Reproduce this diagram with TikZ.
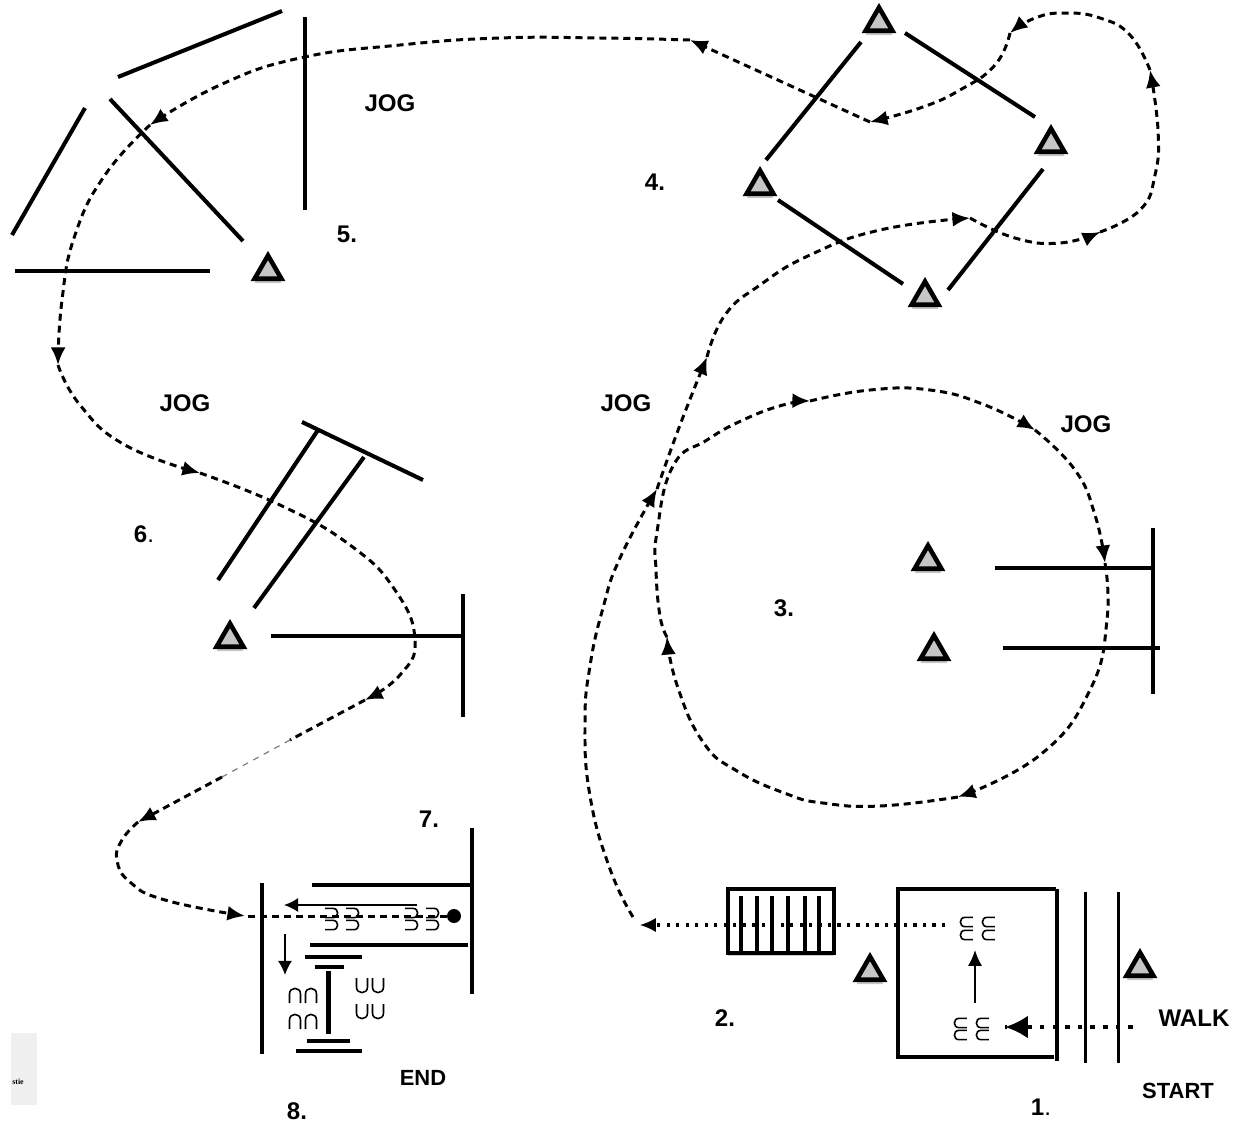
\documentclass[tikz,border=0pt]{standalone}
\usepackage{fontspec}
\setmainfont{Liberation Sans}
\newfontfamily\cornerfont{Liberation Serif}
\usetikzlibrary{arrows.meta,shapes.geometric,shadows,calc}
\tikzset{
	wall/.style={line width=2.3pt},
	thinwall/.style={line width=1.7pt},
	jogline/.style={line width=1.7pt,dash pattern=on 4pt off 2.8pt},
	jogpath/.style={jogline,-{Latex[length=10pt,width=8.5pt]}},
	fadeline/.style={line width=0.7pt,gray,dash pattern=on 3.4pt off 3.4pt},
	walkpath/.style={line width=1.8pt,dash pattern=on 1.8pt off 3.6pt},
	startpath/.style={line width=2.6pt,dash pattern=on 2.6pt off 4.6pt},
	hoofline/.style={line width=0.9pt},
	cone/.style={regular polygon,regular polygon sides=3,draw,line width=2.6pt,fill=gray!45,inner sep=0pt,minimum size=0.62cm,
		drop shadow={shadow xshift=0pt,shadow yshift=-2.5pt,opacity=.45}},
	lbl/.style={font=\bfseries\fontsize{13.7}{15}\selectfont,inner sep=0pt},
	smalllbl/.style={lbl,font=\bfseries\fontsize{12.5}{14}\selectfont},
}
\newcommand{\hoof}[4]{\draw[hoofline,shift={(#1,#2)},rotate=#3,scale=#4] (-5.5,8) -- (-5.5,-1) .. controls (-5.5,-8.5) and (5.5,-8.5) .. (5.5,-1) -- (5.5,8);}
\begin{document}
\begin{tikzpicture}[x=0.02cm,y=-0.02cm]
	\useasboundingbox (0,0) rectangle (1238,1127);
	% 5
	\draw[wall] (118,77) -- (282,11);
	\draw[wall] (305,17) -- (305,210);
	\draw[wall] (110,99) -- (243,241);
	\draw[wall] (85,108) -- (12,235);
	\draw[wall] (15,271) -- (210,271);
	% 4
	\draw[wall] (861,42) -- (766,160);
	\draw[wall] (905,33) -- (1035,117);
	\draw[wall] (1043,169) -- (948,290);
	\draw[wall] (778,200) -- (903,284);
	% 3
	\draw[wall] (995,568) -- (1153,568);
	\draw[wall] (1003,648) -- (1160,648);
	\draw[wall] (1153,528) -- (1153,694);
	% 6
	\draw[wall] (318,430) -- (218,580);
	\draw[wall] (364,457) -- (254,608);
	\draw[wall] (302,422) -- (423,480);
	\draw[wall] (271,636) -- (465,636);
	\draw[wall] (463,594) -- (463,717);
	% 7 and 8
	\draw[wall] (312,885) -- (472,885);
	\draw[wall] (472,828) -- (472,994);
	\draw[wall] (310,945) -- (468,945);
	\draw[wall] (262,883) -- (262,1054);
	\draw[wall] (305,957) -- (362,957);
	\draw[wall] (315,967) -- (344,967);
	\draw[wall] (328.5,971) -- (328.5,1034);
	\draw[wall] (307,1041) -- (350,1041);
	\draw[wall] (296,1051) -- (362,1051);
	% 1
	\draw[wall] (1056,889) -- (898,889) -- (898,1057) -- (1054,1057);
	\draw[wall] (1057,889) -- (1057,1061);
	\draw[thinwall] (1085,892) -- (1085,1063);
	\draw[thinwall] (1118,892) -- (1118,1063);
	% 2
	\draw[line width=2.7pt,drop shadow={shadow xshift=0pt,shadow yshift=-1.5pt,opacity=.4},fill=white] (728,889) rectangle (834,953);
	\foreach \x in {741,757,772,788,805,819} \draw[wall] (\x,896) -- (\x,952);
	% cones
	\foreach \n/\x/\y in {a/879/23,b/1051/144,c/760/186,d/925/297,e/268/271,f/928/561,g/934/651,h/230/639,i/870/972,j/1140/968}
		\node[cone] (cone\n) at (\x,\y) {};
	% hoof prints
	\foreach \x in {332,353,412,433} \foreach \y in {913,925} \hoof{\x}{\y}{-90}{0.85};
	\foreach \x in {295,311} \foreach \y in {995,1021} \hoof{\x}{\y}{0}{1};
	\foreach \x in {362,378} \foreach \y in {986,1012} \hoof{\x}{\y}{180}{1};
	\foreach \x in {966,988} \foreach \y in {922,935} \hoof{\x}{\y}{90}{0.85};
	\foreach \x in {960,982} \foreach \y in {1023,1035} \hoof{\x}{\y}{90}{0.85};
	% walk
	\coordinate (walkin) at (1133,1027);
	\coordinate (walkstop) at (1005,1027);
	\coordinate (turna) at (975,1003);
	\coordinate (turnb) at (975,950);
	\coordinate (walkout) at (945,925);
	\coordinate (walkend) at (640,925);
	\draw[startpath] (walkin) -- (walkstop);
	\draw[-{Latex[length=13pt,width=13pt]},line width=2pt] ($(walkstop)+(25,0)$) -- (walkstop);
	\draw[-{Latex[length=9pt,width=8pt]},line width=1pt] (turna) -- (turnb);
	\draw[walkpath] (walkout) -- ($(walkend)+(14,0)$);
	\draw[-{Latex[length=9pt,width=8pt]},line width=1pt] ($(walkend)+(16,0)$) -- (walkend);
	% jog
	\coordinate (ja) at (633,917);
	\coordinate (jb) at (657,489);
	\coordinate (jc) at (707,357);
	\coordinate (jd) at (970,218);
	\coordinate (je) at (1100,232);
	\coordinate (jf) at (1150,70);
	\coordinate (jg) at (1010,33);
	\coordinate (jh) at (870,122);
	\coordinate (ji) at (690,40);
	\coordinate (jj) at (150,125);
	\coordinate (jk) at (58,365);
	\coordinate (jl) at (200,473);
	\coordinate (jm) at (365,700);
	\coordinate (jn) at (138,822);
	\coordinate (jo) at (245,916);
	\coordinate (gapa) at (290,740);
	\coordinate (gapb) at (222,777);
	\draw[jogpath] plot[smooth,tension=.8] coordinates {(ja) (610,869) (590,796) (585,723) (590,666) (603,608) (620,558) (jb)};
	\draw[jogpath] plot[smooth,tension=.8] coordinates {(jb) (680,425) (jc)};
	\draw[jogpath] plot[smooth,tension=.8] coordinates {(jc) (725,315) (760,285) (810,255) (880,230) (jd)};
	\draw[jogpath] plot[smooth,tension=.8] coordinates {(jd) (1015,238) (1060,243) (je)};
	\draw[jogpath] plot[smooth,tension=.8] coordinates {(je) (1140,210) (1155,175) (1158,130) (jf)};
	\draw[jogpath] plot[smooth,tension=.8] coordinates {(jf) (1130,35) (1100,18) (1065,13) (1035,18) (jg)};
	\draw[jogpath] plot[smooth,tension=.8] coordinates {(jg) (995,65) (960,90) (920,108) (jh)};
	\draw[jogpath] (jh) -- (ji);
	\draw[jogpath] plot[smooth,tension=.8] coordinates {(ji) (600,38) (500,38) (400,45) (300,58) (220,85) (jj)};
	\draw[jogpath] plot[smooth,tension=.8] coordinates {(jj) (105,175) (75,235) (62,300) (jk)};
	\draw[jogpath] plot[smooth,tension=.8] coordinates {(jk) (80,405) (125,445) (jl)};
	\draw[jogpath] plot[smooth,tension=.8] coordinates {(jl) (280,505) (350,545) (395,590) (415,640) (400,675) (jm)};
	\draw[jogline] (jm) -- (gapa);
	\draw[fadeline] (gapa) -- (gapb);
	\draw[jogpath] (gapb) -- (jn);
	\draw[jogpath] plot[smooth,tension=.8] coordinates {(jn) (122,840) (117,860) (130,882) (165,900) (jo)};
	% circle
	\coordinate (ca) at (810,401);
	\coordinate (cb) at (1035,430);
	\coordinate (cc) at (1105,563);
	\coordinate (cd) at (958,797);
	\coordinate (ce) at (667,637);
	\draw[jogpath] plot[smooth,tension=.8] coordinates {(ce) (660,616) (656,570) (657,532) (673,466) (707,440) (743,420) (783,405) (ca)};
	\draw[jogpath] plot[smooth,tension=.8] coordinates {(ca) (870,390) (930,390) (985,405) (cb)};
	\draw[jogpath] plot[smooth,tension=.8] coordinates {(cb) (1075,470) (1095,515) (cc)};
	\draw[jogpath] plot[smooth,tension=.8] coordinates {(cc) (1107,620) (1090,690) (1040,755) (cd)};
	\draw[jogpath] plot[smooth,tension=.8] coordinates {(cd) (880,806) (823,803) (787,794) (737,771) (703,742) (677,685) (ce)};
	% 7 and 8 inside
	\node[circle,fill,inner sep=0pt,minimum size=0.28cm] (whistle) at (454,916) {};
	\draw[jogline] (whistle) -- (jo);
	\coordinate (turnc) at (417,905);
	\coordinate (turnd) at (284,905);
	\coordinate (turne) at (285,934);
	\coordinate (turnf) at (285,975);
	\draw[-{Latex[length=8pt,width=8pt]},line width=1pt] (turnc) -- (turnd);
	\draw[-{Latex[length=8pt,width=8pt]},line width=1pt] (turne) -- (turnf);
	% labels
	\node[lbl] (jogfive) at (390,103) {JOG};
	\node[lbl] (numfive) at (347,234) {5.};
	\node[lbl] (numfour) at (655,182) {4.};
	\node[lbl] (jogsix) at (185,403) {JOG};
	\node[lbl] (jogfour) at (626,403) {JOG};
	\node[lbl] (jogthree) at (1086,424) {JOG};
	\node[lbl] (numsix) at (144,534) {6\textmd{.}};
	\node[lbl] (numthree) at (784,608) {3.};
	\node[lbl] (numseven) at (429,819) {7.};
	\node[lbl] (numtwo) at (725,1018) {2.};
	\node[lbl] (walk) at (1194,1018) {WALK};
	\node[smalllbl] (start) at (1178,1091) {START};
	\node[smalllbl] (end) at (423,1078) {END};
	\node[lbl] (numone) at (1041,1107) {1\textmd{.}};
	\node[lbl] (numeight) at (297,1111) {8.};
	% corner
	\fill[gray!12] (11,1033) rectangle (37,1105);
	\node[font=\cornerfont\bfseries\fontsize{4.5}{5}\selectfont,inner sep=0pt] (corner) at (18,1082) {stie};
\end{tikzpicture}
\end{document}
